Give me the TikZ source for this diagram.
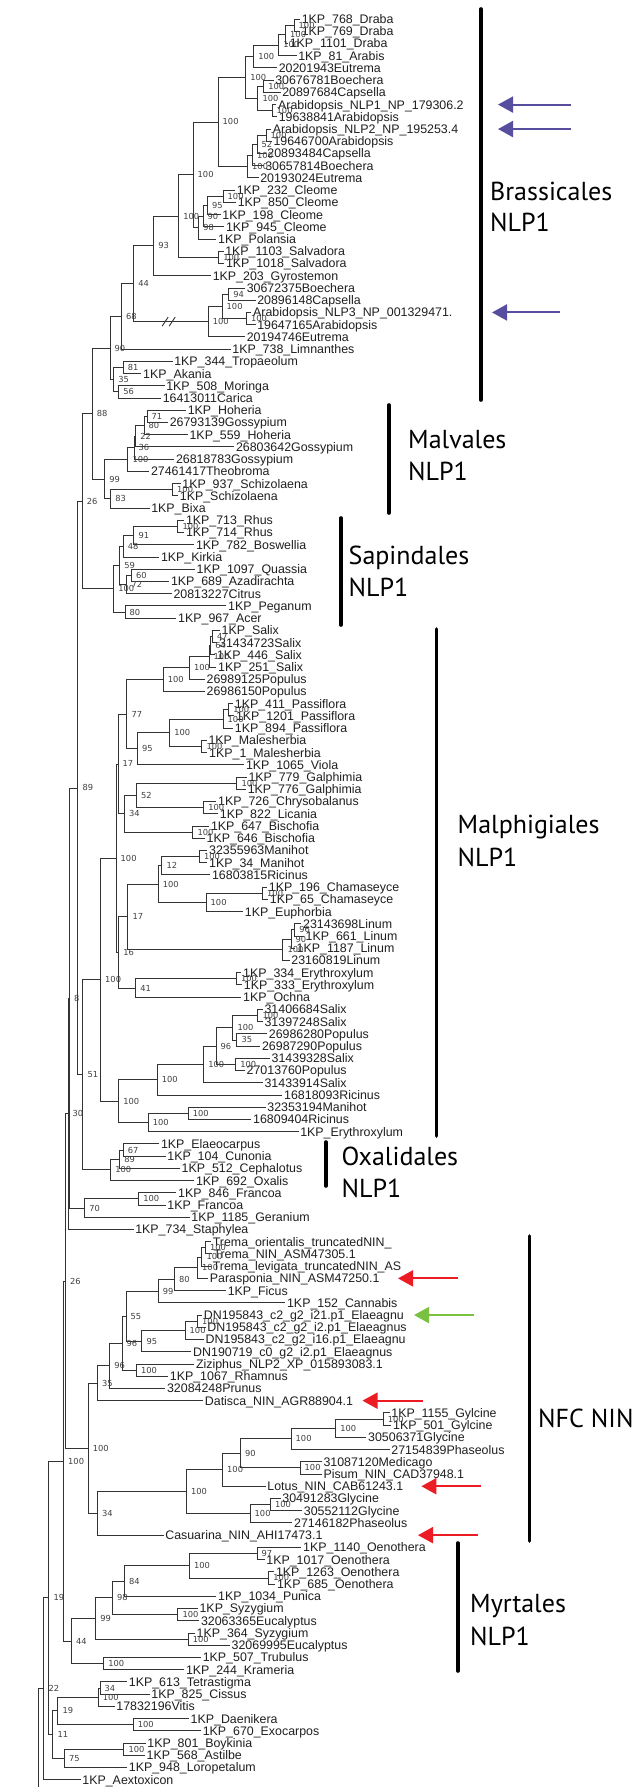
\documentclass[tikz,border=0pt]{standalone}
\usepackage{fontspec}
\setmainfont{Liberation Sans}
\newfontfamily\cladefont{PT Sans}
\newfontfamily\bootfont{DejaVu Sans}
\usetikzlibrary{arrows.meta,calc}
\definecolor{nlpblue}{RGB}{88,78,160}
\definecolor{ninred}{RGB}{236,28,36}
\definecolor{elgreen}{RGB}{122,193,66}

\tikzset{
  br/.style={line width=0.9pt, draw=black!80},
  leaf/.style={anchor=west, inner xsep=1.6pt, inner ysep=0pt, text=black!88,
    font=\fontsize{12.4}{13}\selectfont, text height=8.9pt, text depth=0pt},
  boot/.style={anchor=west, xshift=4.5pt, inner sep=0pt, text=black!75,
    font=\bootfont\fontsize{8.3}{9}\selectfont, text height=6pt, text depth=0pt},
  cladebar/.style={line width=3.6pt, line cap=round, draw=black},
  cladetext/.style={anchor=base west, inner sep=0pt,
    font=\cladefont\fontsize{26}{28}\selectfont},
  marker/.style={line width=2pt, -{Triangle[length=15pt,width=16pt]}},
}

% leaf: index, tip x, label; rows are evenly spaced
\newcommand\lf[3]{\node[leaf] (l#1) at (#2,{19+(#1-1)*12.227}) {#3};}
% row position of a leaf index
\newcommand\rowy[1]{{19+(#1-1)*12.227}}

% clade: name, x, support value, children (first..last)
\newcommand\clade[4]{%
  \foreach \kid [count=\ki] in {#4}{\ifnum\ki=1 \xdef\cfirst{\kid}\fi\xdef\clast{\kid}}%
  \path let \p1=(\cfirst), \p2=(\clast) in (#2pt,{0.5*\y1+0.5*\y2}) coordinate (#1);
  \node[boot] (b#1) at (#1) {#3};
  \foreach \kid in {#4}{\draw[br] (#1) |- (\kid);}%
}

\begin{document}
\begin{tikzpicture}[x=1pt,y=-1pt]
\fill[white] (0,0) rectangle (633,1787);
\useasboundingbox (0,0) rectangle (633,1787);

% ---------------- leaves ----------------
\lf{1}{300}{1KP\_768\_Draba}
\lf{2}{300}{1KP\_769\_Draba}
\lf{3}{288}{1KP\_1101\_Draba}
\lf{4}{296.5}{1KP\_81\_Arabis}
\lf{5}{277}{20201943Eutrema}
\lf{6}{273.5}{30676781Boechera}
\lf{7}{280.5}{20897684Capsella}
\lf{8}{276.4}{Arabidopsis\_NLP1\_NP\_179306.2}
\lf{9}{277}{19638841Arabidopsis}
\lf{10}{271}{Arabidopsis\_NLP2\_NP\_195253.4}
\lf{11}{271.7}{19646700Arabidopsis}
\lf{12}{265.6}{20893484Capsella}
\lf{13}{263.5}{30657814Boechera}
\lf{14}{258.5}{20193024Eutrema}
\lf{15}{235}{1KP\_232\_Cleome}
\lf{16}{236}{1KP\_850\_Cleome}
\lf{17}{220.6}{1KP\_198\_Cleome}
\lf{18}{224.2}{1KP\_945\_Cleome}
\lf{19}{216.4}{1KP\_Polansia}
\lf{20}{223.5}{1KP\_1103\_Salvadora}
\lf{21}{224.2}{1KP\_1018\_Salvadora}
\lf{22}{211}{1KP\_203\_Gyrostemon}
\lf{23}{245}{30672375Boechera}
\lf{24}{255.5}{20896148Capsella}
\lf{25}{251.4}{Arabidopsis\_NLP3\_NP\_001329471.}
\lf{26}{255.5}{19647165Arabidopsis}
\lf{27}{245}{20194746Eutrema}
\lf{28}{230.6}{1KP\_738\_Limnanthes}
\lf{29}{172.5}{1KP\_344\_Tropaeolum}
\lf{30}{141.4}{1KP\_Akania}
\lf{31}{164.5}{1KP\_508\_Moringa}
\lf{32}{161}{16413011Carica}
\lf{33}{186}{1KP\_Hoheria}
\lf{34}{168}{26793139Gossypium}
\lf{35}{187.8}{1KP\_559\_Hoheria}
\lf{36}{234.2}{26803642Gossypium}
\lf{37}{174.2}{26818783Gossypium}
\lf{38}{149.2}{27461417Theobroma}
\lf{39}{180.6}{1KP\_937\_Schizolaena}
\lf{40}{178.1}{1KP\_Schizolaena}
\lf{41}{149.5}{1KP\_Bixa}
\lf{42}{184.2}{1KP\_713\_Rhus}
\lf{43}{184.2}{1KP\_714\_Rhus}
\lf{44}{194.2}{1KP\_782\_Boswellia}
\lf{45}{159.2}{1KP\_Kirkia}
\lf{46}{194.9}{1KP\_1097\_Quassia}
\lf{47}{169.2}{1KP\_689\_Azadirachta}
\lf{48}{171.7}{20813227Citrus}
\lf{49}{226.4}{1KP\_Peganum}
\lf{50}{176.4}{1KP\_967\_Acer}
\lf{51}{219.9}{1KP\_Salix}
\lf{52}{217.4}{31434723Salix}
\lf{53}{215.3}{1KP\_446\_Salix}
\lf{54}{216.4}{1KP\_251\_Salix}
\lf{55}{204.9}{26989125Populus}
\lf{56}{204.9}{26986150Populus}
\lf{57}{233.1}{1KP\_411\_Passiflora}
\lf{58}{234.2}{1KP\_1201\_Passiflora}
\lf{59}{233.1}{1KP\_894\_Passiflora}
\lf{60}{206.7}{1KP\_Malesherbia}
\lf{61}{207.4}{1KP\_1\_Malesherbia}
\lf{62}{244.2}{1KP\_1065\_Viola}
\lf{63}{246.7}{1KP\_779\_Galphimia}
\lf{64}{246}{1KP\_776\_Galphimia}
\lf{65}{216.4}{1KP\_726\_Chrysobalanus}
\lf{66}{218.1}{1KP\_822\_Licania}
\lf{67}{209.2}{1KP\_647\_Bischofia}
\lf{68}{204.9}{1KP\_646\_Bischofia}
\lf{69}{207.4}{32355963Manihot}
\lf{70}{207.4}{1KP\_34\_Manihot}
\lf{71}{210.3}{16803815Ricinus}
\lf{72}{267.1}{1KP\_196\_Chamaseyce}
\lf{73}{268.1}{1KP\_65\_Chamaseyce}
\lf{74}{243.1}{1KP\_Euphorbia}
\lf{75}{301.4}{23143698Linum}
\lf{76}{303.9}{1KP\_661\_Linum}
\lf{77}{294.9}{1KP\_1187\_Linum}
\lf{78}{289.6}{23160819Linum}
\lf{79}{241.4}{1KP\_334\_Erythroxylum}
\lf{80}{242.1}{1KP\_333\_Erythroxylum}
\lf{81}{241.4}{1KP\_Ochna}
\lf{82}{262.8}{31406684Salix}
\lf{83}{262.8}{31397248Salix}
\lf{84}{267.1}{26986280Populus}
\lf{85}{260.3}{26987290Populus}
\lf{86}{269.9}{31439328Salix}
\lf{87}{244.9}{27013760Populus}
\lf{88}{262.8}{31433914Salix}
\lf{89}{282.4}{16818093Ricinus}
\lf{90}{265.6}{32353194Manihot}
\lf{91}{251.4}{16809404Ricinus}
\lf{92}{298.5}{1KP\_Erythroxylum}
\lf{93}{159.2}{1KP\_Elaeocarpus}
\lf{94}{165.6}{1KP\_104\_Cunonia}
\lf{95}{179.9}{1KP\_512\_Cephalotus}
\lf{96}{194.2}{1KP\_692\_Oxalis}
\lf{97}{176.4}{1KP\_846\_Francoa}
\lf{98}{165.6}{1KP\_Francoa}
\lf{99}{189.6}{1KP\_1185\_Geranium}
\lf{100}{133.5}{1KP\_734\_Staphylea}
\lf{101}{211}{Trema\_orientalis\_truncatedNIN\_}
\lf{102}{211.7}{Trema\_NIN\_ASM47305.1}
\lf{103}{211}{Trema\_levigata\_truncatedNIN\_AS}
\lf{104}{208.1}{Parasponia\_NIN\_ASM47250.1}
\lf{105}{226}{1KP\_Ficus}
\lf{106}{285.3}{1KP\_152\_Cannabis}
\lf{107}{202.1}{DN195843\_c2\_g2\_i21.p1\_Elaeagnu}
\lf{108}{205.6}{DN195843\_c2\_g2\_i2.p1\_Elaeagnus}
\lf{109}{203.9}{DN195843\_c2\_g2\_i16.p1\_Elaeagnu}
\lf{110}{191.4}{DN190719\_c0\_g2\_i2.p1\_Elaeagnus}
\lf{111}{194.2}{Ziziphus\_NLP2\_XP\_015893083.1}
\lf{112}{168.1}{1KP\_1067\_Rhamnus}
\lf{113}{165.3}{32084248Prunus}
\lf{114}{203.1}{Datisca\_NIN\_AGR88904.1}
\lf{115}{389.6}{1KP\_1155\_Gylcine}
\lf{116}{391.4}{1KP\_501\_Gylcine}
\lf{117}{366.4}{30506371Glycine}
\lf{118}{389.6}{27154839Phaseolus}
\lf{119}{321.7}{31087120Medicago}
\lf{120}{321.7}{Pisum\_NIN\_CAD37948.1}
\lf{121}{265.6}{Lotus\_NIN\_CAB61243.1}
\lf{122}{280.6}{30491283Glycine}
\lf{123}{302.1}{30552112Glycine}
\lf{124}{292.4}{27146182Phaseolus}
\lf{125}{163.5}{Casuarina\_NIN\_AHI17473.1}
\lf{126}{301.4}{1KP\_1140\_Oenothera}
\lf{127}{264.6}{1KP\_1017\_Oenothera}
\lf{128}{274.2}{1KP\_1263\_Oenothera}
\lf{129}{275.3}{1KP\_685\_Oenothera}
\lf{130}{216.4}{1KP\_1034\_Punica}
\lf{131}{197.8}{1KP\_Syzygium}
\lf{132}{199.2}{32063365Eucalyptus}
\lf{133}{194.9}{1KP\_364\_Syzygium}
\lf{134}{229.9}{32069995Eucalyptus}
\lf{135}{201}{1KP\_507\_Trubulus}
\lf{136}{184.2}{1KP\_244\_Krameria}
\lf{137}{127.1}{1KP\_613\_Tetrastigma}
\lf{138}{149.6}{1KP\_825\_Cissus}
\lf{139}{114.6}{17832196Vitis}
\lf{140}{188.9}{1KP\_Daenikera}
\lf{141}{201}{1KP\_670\_Exocarpos}
\lf{142}{145.6}{1KP\_801\_Boykinia}
\lf{143}{144.9}{1KP\_568\_Astilbe}
\lf{144}{127.1}{1KP\_948\_Loropetalum}
\lf{145}{80.6}{1KP\_Aextoxicon}

% ---------------- Brassicales ----------------
\clade{D}{294}{100}{l1,l2}
\clade{C}{285.5}{100}{D,l3}
\clade{B}{278.6}{100}{C,l4}
\clade{A}{253.6}{100}{B,l5}
\clade{G}{263.6}{100}{l6,l7}
\clade{H}{272}{100}{l8,l9}
\clade{F}{257.9}{100}{G,H}
\clade{E}{245.7}{100}{A,F}
\clade{K}{266}{100}{l10,l11}
\clade{L}{257}{52}{K,l12}
\clade{M}{252.5}{100}{L,l13}
\clade{N}{247.5}{100}{M,l14}
\clade{I}{218}{100}{E,N}
\clade{P1}{223}{100}{l15,l16}
\clade{P2}{207.5}{95}{P1,l17}
\clade{P3}{203}{90}{P2,l18}
\clade{P4}{198.6}{98}{P3,l19}
\clade{O}{193}{100}{I,P4}
\clade{S}{218.6}{100}{l20,l21}
\clade{R}{178.6}{100}{O,S}
\clade{T}{153.6}{93}{R,l22}
\clade{V1}{228.6}{94}{l23,l24}
\clade{V2}{246.4}{100}{l25,l26}
\clade{V3}{222}{100}{V1,V2}
\clade{V4}{208.2}{100}{V3,l27}
\clade{U}{133.6}{44}{T,V4}
\clade{W}{121.4}{68}{U,l28}
\clade{Y1}{123.2}{81}{l29,l30}
\clade{Y2}{118.6}{56}{l31,l32}
\clade{Y3}{113.6}{35}{Y1,Y2}
\clade{X}{110}{90}{W,Y3}

% broken branch mark
\path (V4) ++(-39,0) coordinate (brk);
\draw[br] ($(brk)+(-7,4.5)$) -- ($(brk)+(-1,-4.5)$);
\draw[br] ($(brk)+(0,4.5)$) -- ($(brk)+(6,-4.5)$);

% ---------------- Malvales ----------------
\clade{Ma1}{147}{71}{l33,l34}
\clade{Ma2}{144}{80}{Ma1,l35}
\clade{Ma3}{135.7}{22}{Ma2,l36}
\clade{Ma4}{134}{36}{Ma3,l37}
\clade{Ma5}{127.9}{100}{Ma4,l38}
\clade{Ma6}{172.5}{100}{l39,l40}
\clade{Ma7}{110.7}{83}{Ma6,l41}
\clade{Ma8}{104.6}{99}{Ma5,Ma7}
\clade{Z}{92.1}{88}{X,Ma8}

% ---------------- Sapindales ----------------
\clade{Sa1}{177.9}{100}{l42,l43}
\clade{Sa2}{133.9}{91}{Sa1,l44}
\clade{Sa3}{123.2}{48}{Sa2,l45}
\clade{Sa4}{131.4}{60}{l46,l47}
\clade{Sa5}{126.8}{72}{Sa4,l48}
\clade{Sa8}{119.6}{59}{Sa3,Sa5}
\clade{Sa7}{125}{80}{l49,l50}
\clade{Sa9}{113.6}{100}{Sa8,Sa7}
\clade{AA}{82.1}{26}{Z,Sa9}

% ---------------- Malpighiales ----------------
\clade{Mp1}{212.5}{47}{l51,l52}
\clade{Mp2}{210.7}{64}{Mp1,l53}
\clade{Mp3}{209}{100}{Mp2,l54}
\clade{Mp4}{189.3}{100}{Mp3,l55}
\clade{Mp5}{163.2}{100}{Mp4,l56}
\clade{Mp6}{228.6}{100}{l57,l58}
\clade{Mp7}{223}{100}{Mp6,l59}
\clade{Mp9}{201.8}{100}{l60,l61}
\clade{Mp8}{169.6}{100}{Mp7,Mp9}
\clade{Mp10}{137.5}{95}{Mp8,l62}
\clade{Mp11}{126.8}{77}{Mp5,Mp10}
\clade{Mp13}{236.8}{100}{l63,l64}
\clade{Mp14}{203.6}{100}{l65,l66}
\clade{Mp15}{136.4}{52}{Mp13,Mp14}
\clade{Mp16}{192.9}{100}{l67,l68}
\clade{Mp17}{124.3}{34}{Mp15,Mp16}
\clade{Mp12}{118}{17}{Mp11,Mp17}
\clade{Mp18}{199.3}{100}{l69,l70}
\clade{Mp19}{161.8}{12}{Mp18,l71}
\clade{Mp20}{262.5}{100}{l72,l73}
\clade{Mp21}{206}{100}{Mp20,l74}
\clade{Mp22}{158.2}{100}{Mp19,Mp21}
\clade{Mp23}{294.6}{96}{l75,l76}
\clade{Mp24}{291}{90}{Mp23,l77}
\clade{Mp25}{282.9}{100}{Mp24,l78}
\clade{Mp26}{127.9}{17}{Mp22,Mp25}
\clade{Mp27}{236.4}{100}{l79,l80}
\clade{Mp28}{135.7}{41}{Mp27,l81}
\clade{Mp29}{118.6}{16}{Mp26,Mp28}
\clade{Mp30}{116}{100}{Mp12,Mp29}
\clade{Mq1}{257.9}{100}{l82,l83}
\clade{Mq2}{236.8}{35}{l84,l85}
\clade{Mq3}{232.9}{100}{Mq1,Mq2}
\clade{Mq4}{235.7}{100}{l86,l87}
\clade{Mq5}{216}{96}{Mq3,Mq4}
\clade{Mq6}{203.6}{100}{Mq5,l88}
\clade{Mq7}{157.1}{100}{Mq6,l89}
\clade{Mq8}{188.2}{100}{l90,l91}
\clade{Mq9}{148.2}{100}{Mq8,l92}
\clade{Mq10}{118.6}{100}{Mq7,Mq9}
\clade{Mp31}{100.5}{100}{Mp30,Mq10}

% ---------------- Oxalidales and backbone ----------------
\clade{Ox1}{123.2}{67}{l93,l94}
\clade{Ox2}{119.6}{89}{Ox1,l95}
\clade{Ox3}{110.7}{100}{Ox2,l96}
\clade{Nfo}{82.9}{51}{Mp31,Ox3}
\clade{BB}{77.9}{89}{AA,Nfo}
\clade{Fr1}{138.6}{100}{l97,l98}
\clade{Fr2}{84.6}{70}{Fr1,l99}
\clade{CC}{69.5}{8}{BB,Fr2}
\clade{DD}{68}{30}{CC,l100}

% ---------------- NFC NIN ----------------
\clade{Nf1}{205.4}{100}{l101,l102}
\clade{Nf3}{201.8}{100}{Nf1,l103}
\clade{Nf4}{197.5}{100}{Nf3,l104}
\clade{Nf5}{174.3}{80}{Nf4,l105}
\clade{Nf6}{158.2}{99}{Nf5,l106}
\clade{Ne1}{197.5}{100}{l107,l108}
\clade{Ne2}{185}{100}{Ne1,l109}
\clade{Ne3}{141.8}{95}{Ne2,l110}
\clade{Nff}{126}{55}{Nf6,Ne3}
\clade{Ne4}{136.4}{100}{l111,l112}
\clade{Nnsa}{122}{96}{Nff,Ne4}
\clade{Nnsb}{109.6}{96}{Nnsa,l113}
\clade{Ntf}{97.5}{35}{Nnsb,l114}
\clade{Ng1}{383.2}{100}{l115,l116}
\clade{Ng2}{335.7}{100}{Ng1,l117}
\clade{Ng3}{291}{100}{Ng2,l118}
\clade{Ng4}{300}{100}{l119,l120}
\clade{Ng5}{240.4}{90}{Ng3,Ng4}
\clade{Ng6}{222.5}{100}{Ng5,l121}
\clade{Ng7}{270.4}{100}{l122,l123}
\clade{Ng8}{250}{100}{Ng7,l124}
\clade{Ng9}{186.4}{100}{Ng6,Ng8}
\clade{Ng10}{97.5}{34}{Ng9,l125}
\clade{Nn}{88.2}{100}{Ntf,Ng10}
\clade{EE}{65.5}{26}{DD,Nn}

% ---------------- Myrtales ----------------
\clade{My1}{257}{97}{l126,l127}
\clade{My2}{268.6}{100}{l128,l129}
\clade{My3}{189.3}{100}{My1,My2}
\clade{My4}{124.3}{84}{My3,l130}
\clade{My5}{177.9}{100}{l131,l132}
\clade{My6}{112.5}{98}{My4,My5}
\clade{My7}{188.2}{100}{l133,l134}
\clade{My8}{95.7}{99}{My6,My7}
\clade{Kr}{103.6}{100}{l135,l136}
\clade{My9}{71.4}{44}{My8,Kr}
\clade{FF}{63.5}{100}{EE,My9}

% ---------------- basal lineages ----------------
\clade{Vi1}{100}{34}{l137,l138}
\clade{Vi2}{98.2}{100}{Vi1,l139}
\clade{Sn}{133.2}{100}{l140,l141}
\clade{Vi3}{57.9}{19}{Vi2,Sn}
\clade{Sx1}{123.9}{100}{l142,l143}
\clade{Sx2}{64.3}{75}{Sx1,l144}
\clade{Vi4}{52.9}{11}{Vi3,Sx2}
\clade{GG}{48.9}{19}{FF,Vi4}
\clade{HH}{43.9}{22}{GG,l145}
\coordinate (rootend) at (38.2,1787);
\draw[br] (rootend) |- (HH);

% ---------------- clade bars and names ----------------
\coordinate (braT) at (481,9);      \coordinate (braB) at (481,400);
\coordinate (malT) at (389,405);    \coordinate (malB) at (389,513);
\coordinate (sapT) at (341,518);    \coordinate (sapB) at (341,625);
\coordinate (mpgT) at (436.4,629);  \coordinate (mpgB) at (436.4,1136);
\coordinate (oxaT) at (325.7,1142); \coordinate (oxaB) at (325.7,1186);
\coordinate (nfcT) at (529.6,1236); \coordinate (nfcB) at (529.6,1541);
\coordinate (myrT) at (457.9,1543); \coordinate (myrB) at (457.9,1671);
\draw[cladebar] (braT) -- (braB);
\draw[cladebar] (malT) -- (malB);
\draw[cladebar] (sapT) -- (sapB);
\draw[cladebar] (mpgT) -- (mpgB);
\draw[cladebar] (oxaT) -- (oxaB);
\draw[cladebar] (nfcT) -- (nfcB);
\draw[cladebar] (myrT) -- (myrB);

\node[cladetext] (tbra) at (490,200.7) {Brassicales};
\node[cladetext] (tbra2) at (490,231.5) {NLP1};
\node[cladetext] (tmal) at (408,448.5) {Malvales};
\node[cladetext] (tmal2) at (408,480.7) {NLP1};
\node[cladetext] (tsap) at (348.5,564.7) {Sapindales};
\node[cladetext] (tsap2) at (348.5,596.7) {NLP1};
\node[cladetext] (tmpg) at (457.5,833.3) {Malphigiales};
\node[cladetext] (tmpg2) at (457.5,866) {NLP1};
\node[cladetext] (toxa) at (341.5,1165.3) {Oxalidales};
\node[cladetext] (toxa2) at (341.5,1197.3) {NLP1};
\node[cladetext] (tnfc) at (538,1427.5) {NFC NIN};
\node[cladetext] (tmyr) at (470,1612.7) {Myrtales};
\node[cladetext] (tmyr2) at (470,1645.3) {NLP1};

% ---------------- highlight arrows ----------------
\coordinate (a1h) at (498,\rowy{8});     \coordinate (a1t) at (571,\rowy{8});
\coordinate (a2h) at (498,\rowy{10});    \coordinate (a2t) at (571,\rowy{10});
\coordinate (a3h) at (492,\rowy{25});    \coordinate (a3t) at (560,\rowy{25});
\coordinate (r1h) at (398,\rowy{104});   \coordinate (r1t) at (458,\rowy{104});
\coordinate (g1h) at (414,\rowy{107});   \coordinate (g1t) at (474.3,\rowy{107});
\coordinate (r2h) at (362.5,\rowy{114}); \coordinate (r2t) at (422.5,\rowy{114});
\coordinate (r3h) at (421.4,\rowy{121}); \coordinate (r3t) at (481.4,\rowy{121});
\coordinate (r4h) at (418,\rowy{125});   \coordinate (r4t) at (478,\rowy{125});
\draw[marker, nlpblue] (a1t) -- (a1h);
\draw[marker, nlpblue] (a2t) -- (a2h);
\draw[marker, nlpblue] (a3t) -- (a3h);
\draw[marker, ninred] (r1t) -- (r1h);
\draw[marker, elgreen] (g1t) -- (g1h);
\draw[marker, ninred] (r2t) -- (r2h);
\draw[marker, ninred] (r3t) -- (r3h);
\draw[marker, ninred] (r4t) -- (r4h);
\end{tikzpicture}
\end{document}
